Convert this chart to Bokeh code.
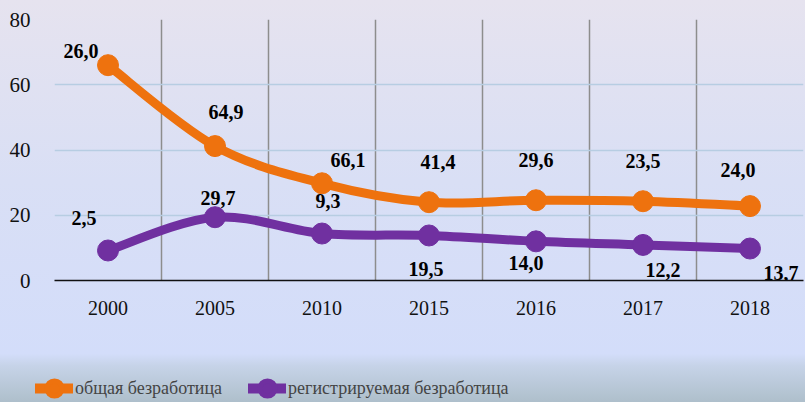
import numpy as np
from bokeh.plotting import figure
from bokeh.layouts import column, row
from bokeh.models import FixedTicker, Legend, LegendItem, ColumnDataSource
from bokeh.core.properties import value
from bokeh.embed import file_html
from bokeh.resources import INLINE

# ---- data ----
years = ["2000", "2005", "2010", "2015", "2016", "2017", "2018"]
total_vals = [66.0, 41.2, 29.8, 24.0, 24.6, 24.3, 22.8]
reg_vals = [9.2, 19.4, 14.4, 13.8, 12.0, 10.9, 9.8]
total_labels = ["26,0", "64,9", "66,1", "41,4", "29,6", "23,5", "24,0"]
reg_labels = ["2,5", "29,7", "9,3", "19,5", "14,0", "12,2", "13,7"]
series_names = ["общая безработица", "регистрируемая безработица"]
y_ticks = [0, 20, 40, 60, 80]

# label offsets in screen pixels (positions, kept separate)
total_dx = [-27, 11, 26, 9, 0, 0, -12]
total_dy = [14, 34, 23, 40, 40, 40, 36]
reg_dx = [-24, 3, 6, -3, -10, 20, 31]
reg_dy = [32, 19, 33, -34, -22, -25, -24]

ORANGE = "#ee720e"
PURPLE = "#7030a0"
FONT = "Liberation Serif"

xs = np.arange(len(years)) + 0.5

p = figure(width=805, height=345, output_backend="svg", toolbar_location=None,
           x_range=(0, len(years)), y_range=(0, 80),
           min_border_left=54, min_border_right=2, min_border_top=19, min_border_bottom=65)
p.background_fill_alpha = 0
p.border_fill_alpha = 0
p.outline_line_color = None

# axes
p.xaxis.ticker = FixedTicker(ticks=list(xs))
p.xaxis.major_label_overrides = {float(x): y for x, y in zip(xs, years)}
p.xaxis.major_tick_line_color = None
p.xaxis.minor_tick_line_color = None
p.xaxis.axis_line_color = "#111111"
p.xaxis.axis_line_width = 1.5
p.xaxis.major_label_text_font = FONT
p.xaxis.major_label_text_font_size = "20px"
p.xaxis.major_label_text_color = "#111111"
p.xaxis.major_label_standoff = 14

p.yaxis.ticker = FixedTicker(ticks=y_ticks)
p.yaxis.major_tick_line_color = None
p.yaxis.minor_tick_line_color = None
p.yaxis.axis_line_color = None
p.yaxis.major_label_text_font = FONT
p.yaxis.major_label_text_font_size = "21px"
p.yaxis.major_label_text_color = "#111111"
p.yaxis.major_label_standoff = 18

p.ygrid.ticker = FixedTicker(ticks=y_ticks[1:])
p.ygrid.grid_line_color = "#b7cde2"
p.ygrid.grid_line_width = 1.5
p.xgrid.ticker = FixedTicker(ticks=list(range(len(years) + 1)))
p.xgrid.grid_line_color = "#8d8d8d"
p.xgrid.grid_line_width = 1.5


def smooth_bezier(x, y, k=1/6):
    x = np.asarray(x, float); y = np.asarray(y, float)
    n = len(x)
    px = np.concatenate([[x[0]], x, [x[-1]]])
    py = np.concatenate([[y[0]], y, [y[-1]]])
    d = dict(x0=[], y0=[], x1=[], y1=[], cx0=[], cy0=[], cx1=[], cy1=[])
    for i in range(n - 1):
        a, b, c, e = i, i + 1, i + 2, i + 3
        d["x0"].append(px[b]); d["y0"].append(py[b])
        d["x1"].append(px[c]); d["y1"].append(py[c])
        d["cx0"].append(px[b] + (px[c] - px[a]) * k)
        d["cy0"].append(py[b] + (py[c] - py[a]) * k)
        d["cx1"].append(px[c] - (px[e] - px[b]) * k)
        d["cy1"].append(py[c] - (py[e] - py[b]) * k)
    return ColumnDataSource(d)


# legend figure
p2 = figure(width=805, height=57, output_backend="svg", toolbar_location=None,
            x_range=(0, 1), y_range=(0, 1),
            min_border_left=0, min_border_right=0, min_border_top=0, min_border_bottom=0)
p2.background_fill_alpha = 0
p2.border_fill_alpha = 0
p2.outline_line_color = None
p2.axis.visible = False
p2.grid.visible = False

items = []
for vals, col, name in [(total_vals, ORANGE, series_names[0]), (reg_vals, PURPLE, series_names[1])]:
    src = smooth_bezier(xs, vals)
    p.bezier(x0="x0", y0="y0", x1="x1", y1="y1", cx0="cx0", cy0="cy0", cx1="cx1", cy1="cy1",
             source=src, line_color=col, line_width=9)
    p.scatter(x=xs, y=vals, size=21, fill_color=col, line_color=col)
    # legend-only renderers, kept outside the visible range of the legend strip
    lr = p2.line(x=[-5, -4], y=[-5, -5], line_color=col, line_width=10, line_cap="round")
    sr = p2.scatter(x=[-5], y=[-5], size=21, fill_color=col, line_color=col, line_width=5)
    items.append(LegendItem(label=name, renderers=[lr, sr]))

p.text(x=xs, y=total_vals, text=total_labels, x_offset=total_dx, y_offset=[-v for v in total_dy],
       text_font=value(FONT), text_font_style="bold", text_font_size="20px",
       text_align="center", text_baseline="middle", text_color="#000000")
p.text(x=xs, y=reg_vals, text=reg_labels, x_offset=reg_dx, y_offset=[-v for v in reg_dy],
       text_font=value(FONT), text_font_style="bold", text_font_size="20px",
       text_align="center", text_baseline="middle", text_color="#000000")

legend = Legend(items=items, orientation="horizontal", location=(35, -11),
                glyph_width=38, glyph_height=50, spacing=26, padding=0, margin=0,
                label_text_font=FONT, label_text_font_size="18px", label_standoff=2,
                background_fill_alpha=0, border_line_color=None)
p2.add_layout(legend, "center")

layout = column(p, row(p2, spacing=0), spacing=0, styles={
    "background": "linear-gradient(to bottom, #e6e3ef 0%, #d9dff5 45%, #d3ddfa 88%, #c6d3e8 91%, #aebfcb 100%)"})

open("out.html", "w").write(file_html(layout, INLINE))
